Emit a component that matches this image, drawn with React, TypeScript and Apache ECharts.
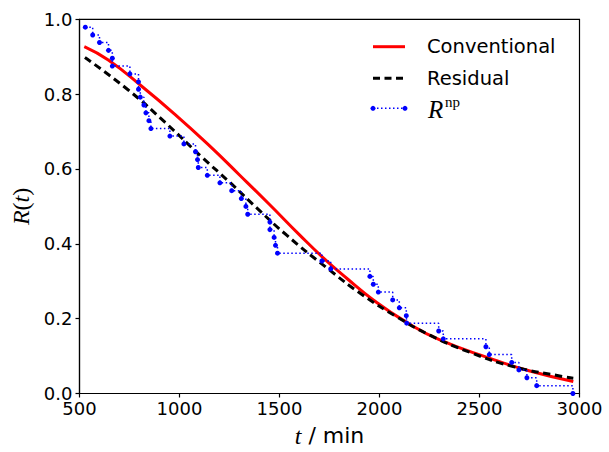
import React, { useEffect, useRef } from 'react';
import * as echarts from 'echarts';

// Non-parametric reliability R^np (step, post) — event times (min) and levels
const stepTimes = [529, 566, 600, 645, 664, 664, 752, 795, 795, 804, 822, 832, 847, 857, 952, 1022, 1080, 1090, 1094, 1139, 1202, 1261, 1309, 1332, 1341, 1452, 1452, 1473, 1480, 1490, 1712, 1756, 1952, 1969, 1994, 2066, 2099, 2134, 2136, 2296, 2319, 2532, 2549, 2661, 2697, 2737, 2786, 2967];
const stepLevels = [0.979, 0.958, 0.938, 0.917, 0.896, 0.875, 0.854, 0.833, 0.813, 0.792, 0.771, 0.75, 0.729, 0.708, 0.688, 0.667, 0.646, 0.625, 0.604, 0.583, 0.563, 0.542, 0.521, 0.5, 0.479, 0.458, 0.438, 0.417, 0.396, 0.375, 0.354, 0.333, 0.313, 0.292, 0.271, 0.25, 0.229, 0.208, 0.188, 0.167, 0.146, 0.125, 0.104, 0.083, 0.063, 0.042, 0.021, 0.0];

// Conventional model curve
const convTimes = [524, 644, 811, 977, 1144, 1300, 1450, 1600, 1712, 1836, 1969, 2136, 2302, 2552, 2752, 2969];
const convValues = [0.927, 0.891, 0.821, 0.746, 0.665, 0.584, 0.505, 0.424, 0.366, 0.308, 0.25, 0.19, 0.143, 0.094, 0.06, 0.032];

// Residual model curve
const resTimes = [527, 744, 927, 1111, 1252, 1386, 1536, 1736, 1919, 2086, 2252, 2452, 2669, 2919, 2969];
const resValues = [0.898, 0.811, 0.725, 0.632, 0.564, 0.496, 0.423, 0.336, 0.262, 0.205, 0.156, 0.11, 0.072, 0.045, 0.041];

const xMin = 500;
const xMax = 3000;
const xStep = 500;
const yMin = 0;
const yMax = 1;
const yStep = 0.2;

const legendLabels = ['Conventional', 'Residual'];

export default function App() {
  const ref = useRef<HTMLDivElement>(null);
  useEffect(() => {
    const chart = echarts.init(ref.current!, null, { renderer: 'svg' });
    const zip = (xs: number[], ys: number[]) => xs.map((x, i) => [x, ys[i]]);
    const axisCommon = {
      axisLine: { show: true, lineStyle: { color: '#000', width: 1.2 } },
      axisTick: { show: true, length: 4, lineStyle: { color: '#000', width: 1.2 } },
      splitLine: { show: false },
    };
    chart.setOption({
      animation: false,
      backgroundColor: '#fff',
      grid: {
        left: 79.5,
        right: 29.5,
        top: 19.3,
        bottom: 58.5,
        show: true,
        borderColor: '#000',
        borderWidth: 1.2,
        containLabel: false,
        outerBoundsMode: 'none',
      },
      xAxis: {
        type: 'value',
        min: xMin,
        max: xMax,
        interval: xStep,
        ...axisCommon,
        axisLabel: {
          fontSize: 18,
          fontFamily: 'DejaVu Sans',
          color: '#000',
          margin: 6,
          formatter: (v: number) => String(v),
        },
        name: '{i|t}{n| / min}',
        nameLocation: 'middle',
        nameGap: 30,
        nameTextStyle: {
          rich: {
            i: { fontFamily: 'Liberation Serif', fontStyle: 'italic', fontSize: 24, color: '#000' },
            n: { fontFamily: 'DejaVu Sans', fontSize: 22, color: '#000' },
          },
        },
      },
      yAxis: {
        type: 'value',
        min: yMin,
        max: yMax,
        interval: yStep,
        ...axisCommon,
        axisLabel: {
          fontSize: 18,
          fontFamily: 'DejaVu Sans',
          color: '#000',
          margin: 7,
          formatter: (v: number) => v.toFixed(1),
        },
        name: '{i|R}{n|(}{i|t}{n|)}',
        nameLocation: 'middle',
        nameGap: 47,
        nameRotate: 90,
        nameTextStyle: {
          rich: {
            i: { fontFamily: 'Liberation Serif', fontStyle: 'italic', fontSize: 24, color: '#000' },
            n: { fontFamily: 'Liberation Serif', fontSize: 24, color: '#000' },
          },
        },
      },
      series: [
        {
          name: 'Conventional',
          type: 'line',
          data: zip(convTimes, convValues),
          smooth: 0.5,
          showSymbol: false,
          lineStyle: { color: '#ff0000', width: 3 },
          z: 2,
        },
        {
          name: 'Residual',
          type: 'line',
          data: zip(resTimes, resValues),
          smooth: 0.5,
          showSymbol: false,
          lineStyle: { color: '#000', width: 3, type: [7.5, 4.5] },
          z: 3,
        },
        {
          name: 'Rnp',
          type: 'line',
          data: zip(stepTimes, stepLevels),
          step: 'end',
          symbol: 'circle',
          symbolSize: 5,
          showSymbol: true,
          itemStyle: { color: '#0000ff' },
          lineStyle: { color: '#0000ff', width: 1.5, type: [1.5, 2.5] },
          z: 4,
        },
      ],
      graphic: [
        { type: 'line', shape: { x1: 373, y1: 46.7, x2: 405, y2: 46.7 }, style: { stroke: '#ff0000', lineWidth: 3 }, z: 10 },
        { type: 'text', x: 427, y: 46.7, style: { text: legendLabels[0], fontSize: 19.5, fontFamily: 'DejaVu Sans', fill: '#000', verticalAlign: 'middle', align: 'left' }, z: 10 },
        { type: 'line', shape: { x1: 373, y1: 78.3, x2: 405, y2: 78.3 }, style: { stroke: '#000', lineWidth: 3, lineDash: [7, 4.5] }, z: 10 },
        { type: 'text', x: 427, y: 78.3, style: { text: legendLabels[1], fontSize: 19.5, fontFamily: 'DejaVu Sans', fill: '#000', verticalAlign: 'middle', align: 'left' }, z: 10 },
        { type: 'line', shape: { x1: 373, y1: 108.3, x2: 405, y2: 108.3 }, style: { stroke: '#0000ff', lineWidth: 1.5, lineDash: [1.5, 2.5] }, z: 10 },
        { type: 'circle', shape: { cx: 373, cy: 108.3, r: 2.5 }, style: { fill: '#0000ff' }, z: 10 },
        { type: 'circle', shape: { cx: 405, cy: 108.3, r: 2.5 }, style: { fill: '#0000ff' }, z: 10 },
        { type: 'text', x: 428, y: 109, style: { text: 'R', fontSize: 25, fontFamily: 'Liberation Serif', fontStyle: 'italic', fill: '#000', verticalAlign: 'middle', align: 'left' }, z: 10 },
        { type: 'text', x: 445, y: 102, style: { text: 'np', fontSize: 15, fontFamily: 'Liberation Serif', fill: '#000', verticalAlign: 'middle', align: 'left' }, z: 10 },
      ],
    });
    return () => chart.dispose();
  }, []);
  return (
    <div
      ref={ref}
      style={{ position: 'fixed', left: 0, top: 0, width: 609, height: 452, background: '#fff' }}
    />
  );
}
